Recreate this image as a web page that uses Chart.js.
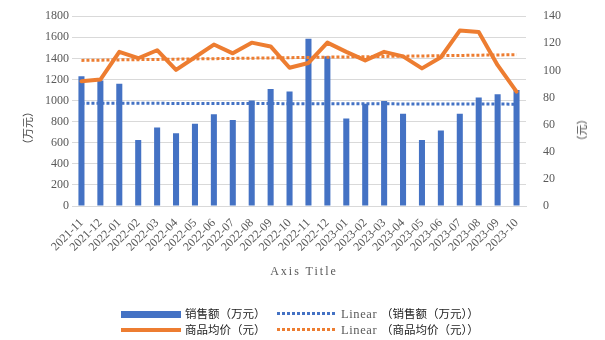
<!DOCTYPE html>
<html>
<head>
<meta charset="utf-8">
<script src="https://cdn.jsdelivr.net/npm/chart.js@4/dist/chart.umd.min.js"></script>
<style>
  body { margin: 0; background: #fff; }
  #wrap { position: relative; width: 605px; height: 340px; overflow: hidden; }
  #salesChart { position: absolute; left: 0; top: 0; }
  .ytitle { position: absolute; font: 11px "Noto Sans CJK SC"; color: #404040; white-space: nowrap;
            transform: translate(-50%, -50%) rotate(-90deg); line-height: 12px; }
  .xtitle { position: absolute; font: 12px "Liberation Serif"; color: #595959; letter-spacing: 2px;
            transform: translate(-50%, -50%); white-space: nowrap; }
  .sw { position: absolute; }
  .dots { height: 3px; }
  .lt { position: absolute; font: 11.5px "Noto Sans CJK SC"; color: #222; line-height: 16px; white-space: nowrap; }
  .lt i { font: 12.5px "Liberation Serif"; font-style: normal; color: #595959; letter-spacing: 0.6px; }
</style>
</head>
<body>
<div id="wrap">
  <canvas id="salesChart" width="605" height="340"></canvas>
  <div class="ytitle" style="left:27px; top:128px;">（万元）</div>
  <div class="ytitle" style="left:581px; top:130px;">（元）</div>
  <div class="xtitle" style="left:304px; top:271px;">Axis Title</div>

  <!-- legend -->
  <div class="sw" style="left:121px; top:311px; width:60px; height:7px; background:#4472C4;"></div>
  <div class="lt" style="left:185px; top:305px;">销售额（万元）</div>
  <div class="sw dots" id="dotBlue" style="left:277px; top:312px; width:58px;"></div>
  <div class="lt" style="left:341px; top:305px;"><i>Linear </i>（销售额（万元））</div>

  <div class="sw" style="left:121px; top:328px; width:60px; height:4px; background:#ED7D31;"></div>
  <div class="lt" style="left:185px; top:321px;">商品均价（元）</div>
  <div class="sw dots" id="dotOrange" style="left:277px; top:328px; width:58px;"></div>
  <div class="lt" style="left:341px; top:321px;"><i>Linear </i>（商品均价（元））</div>
</div>

<script>
// months on the category axis
const months = [
  '2021-11', '2021-12', '2022-01', '2022-02', '2022-03', '2022-04',
  '2022-05', '2022-06', '2022-07', '2022-08', '2022-09', '2022-10',
  '2022-11', '2022-12', '2023-01', '2023-02', '2023-03', '2023-04',
  '2023-05', '2023-06', '2023-07', '2023-08', '2023-09', '2023-10'
];

// 销售额 (万元), left axis
const salesWan = [
  1230, 1190, 1160, 625, 745, 690,
  780, 870, 815, 1000, 1110, 1085,
  1585, 1420, 830, 970, 995, 875,
  625, 715, 875, 1030, 1060, 1100
];

// 商品均价 (元), right axis
const avgPrice = [
  92.0, 93.3, 113.7, 109.0, 114.9, 100.4,
  109.7, 119.1, 112.6, 120.5, 117.7, 102.0,
  105.5, 120.5, 113.7, 107.4, 113.7, 110.4,
  101.5, 109.7, 129.4, 128.3, 103.9, 84.4
];

// linear trend lines: value at first and last month
const salesTrendEnds = [975, 966];
const priceTrendEnds = [107.4, 111.6];

// axis ranges
const salesAxis = { min: 0, max: 1800, step: 200 };
const priceAxis = { min: 0, max: 140, step: 20 };

const BLUE = '#4472C4';
const ORANGE = '#ED7D31';
const GRID = '#D9D9D9';
const TICK = '#595959';

// only the two ends are set, the line joins them
function endsOnly(ends) {
  return months.map((m, i) => i === 0 ? ends[0] : (i === months.length - 1 ? ends[1] : null));
}

// dotted legend swatches
function dotted(color) {
  return `repeating-linear-gradient(90deg, ${color} 0 3px, transparent 3px 5px)`;
}
document.getElementById('dotBlue').style.background = dotted(BLUE);
document.getElementById('dotOrange').style.background = dotted(ORANGE);

const tickFont = { family: "'Liberation Serif', serif", size: 12 };

new Chart(document.getElementById('salesChart'), {
  data: {
    labels: months,
    datasets: [
      {
        type: 'bar',
        label: '销售额（万元）',
        data: salesWan,
        yAxisID: 'y',
        backgroundColor: BLUE,
        barPercentage: 0.32,
        categoryPercentage: 1,
        order: 3
      },
      {
        type: 'line',
        label: 'Linear （销售额（万元））',
        data: endsOnly(salesTrendEnds),
        yAxisID: 'y',
        borderColor: BLUE,
        borderWidth: 3,
        borderDash: [3, 2],
        pointRadius: 0,
        spanGaps: true,
        order: 2
      },
      {
        type: 'line',
        label: '商品均价（元）',
        data: avgPrice,
        yAxisID: 'y1',
        borderColor: ORANGE,
        borderWidth: 4,
        borderJoinStyle: 'round',
        borderCapStyle: 'round',
        pointRadius: 0,
        tension: 0,
        order: 0
      },
      {
        type: 'line',
        label: 'Linear （商品均价（元））',
        data: endsOnly(priceTrendEnds),
        yAxisID: 'y1',
        borderColor: ORANGE,
        borderWidth: 3,
        borderDash: [3, 2],
        pointRadius: 0,
        spanGaps: true,
        order: 1
      }
    ]
  },
  options: {
    responsive: false,
    animation: false,
    devicePixelRatio: 1,
    layout: { padding: { top: 7, left: 0, right: 0, bottom: 0 } },
    plugins: {
      legend: { display: false },
      tooltip: { enabled: false }
    },
    scales: {
      x: {
        grid: { display: false },
        border: { display: true, color: GRID, width: 1 },
        ticks: {
          color: TICK,
          font: tickFont,
          minRotation: 45,
          maxRotation: 45,
          autoSkip: false,
          padding: 2
        },
        afterFit: s => { s.height = 134; }
      },
      y: {
        position: 'left',
        min: salesAxis.min,
        max: salesAxis.max,
        grid: { color: GRID, drawTicks: false },
        border: { display: false },
        ticks: { stepSize: salesAxis.step, color: TICK, font: tickFont, padding: 3, callback: v => String(v) },
        afterFit: s => { s.width = 72; }
      },
      y1: {
        position: 'right',
        min: priceAxis.min,
        max: priceAxis.max,
        grid: { display: false },
        border: { display: false },
        ticks: { stepSize: priceAxis.step, color: TICK, font: tickFont, padding: 9, callback: v => String(v) },
        afterFit: s => { s.width = 79; }
      }
    }
  }
});
</script>
</body>
</html>
